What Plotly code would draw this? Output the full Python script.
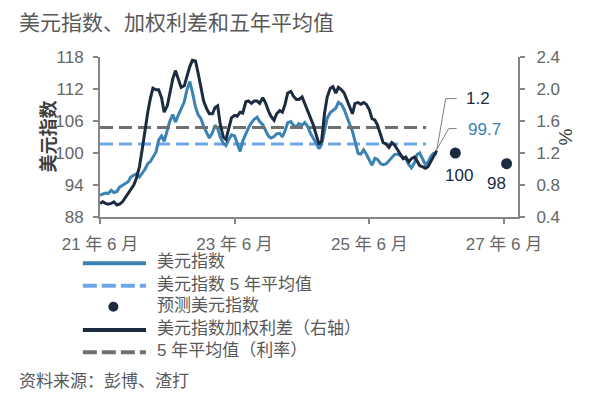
import pandas as pd
import plotly.graph_objects as go

# semi-monthly readings, Jun 2021 - Jun 2026
dates = pd.date_range('2021-06-01', periods=121, freq='SMS')

dxy = [92.1, 92.3, 92.5, 92.4, 93.0, 92.6, 92.8, 93.6, 93.9, 94.2,
       94.6, 95.5, 95.8, 96.1, 95.5, 96.2, 97.0, 98.0, 98.4, 99.2,
       100.2, 102.4, 103.2, 102.2, 104.3, 106.0, 107.2, 105.8, 107.2, 108.2,
       109.6, 111.8, 113.4, 111.4, 108.6, 107.2, 106.4, 105.0, 103.6, 102.8,
       103.8, 105.2, 104.6, 103.0, 101.8, 101.4, 102.6, 103.4, 103.2, 102.0,
       100.3, 102.2, 103.6, 104.7, 105.7, 106.3, 106.7, 105.9, 105.3, 104.3,
       103.2, 102.8, 103.1, 103.6, 103.7, 103.0, 104.2, 105.7, 105.9, 105.2,
       104.9, 105.5, 105.2, 105.7, 105.0, 103.8, 102.6, 101.9, 100.8, 101.6,
       104.2, 106.5, 107.6, 107.9, 108.4, 109.5, 109.1, 108.2, 106.8, 105.3,
       104.1, 102.4, 99.9, 99.8, 100.6, 99.8, 98.5, 97.7, 99.0, 98.8,
       98.0, 97.8, 98.0, 98.6, 99.2, 99.7, 99.8, 99.5, 99.2, 98.9,
       97.8, 97.2, 98.2, 99.7, 100.0, 99.1, 97.8, 98.3, 99.4, 99.9,
       99.7]

spread = [0.57, 0.59, 0.57, 0.56, 0.57, 0.59, 0.55, 0.56, 0.59, 0.64,
          0.69, 0.75, 0.80, 0.88, 1.03, 1.23, 1.50, 1.71, 1.88, 2.01,
          1.99, 1.99, 1.89, 1.71, 1.79, 1.97, 2.13, 2.23, 2.11, 2.02,
          2.04, 2.16, 2.28, 2.36, 2.35, 2.20, 2.03, 1.85, 1.75, 1.69,
          1.69, 1.77, 1.79, 1.56, 1.40, 1.37, 1.51, 1.64, 1.67, 1.66,
          1.71, 1.70, 1.84, 1.85, 1.82, 1.85, 1.85, 1.82, 1.89, 1.83,
          1.73, 1.66, 1.61, 1.69, 1.73, 1.71, 1.81, 1.95, 1.97, 1.91,
          1.87, 1.87, 1.90, 1.82, 1.75, 1.67, 1.55, 1.44, 1.31, 1.35,
          1.70, 1.90, 2.01, 2.03, 1.95, 2.02, 1.99, 1.95, 1.85, 1.75,
          1.69, 1.82, 1.83, 1.81, 1.83, 1.81, 1.74, 1.63, 1.61, 1.55,
          1.42, 1.33, 1.31, 1.27, 1.33, 1.30, 1.24, 1.19, 1.13, 1.15,
          1.09, 1.13, 1.15, 1.10, 1.04, 1.03, 1.01, 1.03, 1.10, 1.17,
          1.23]

avg_dates = ['2021-06-01', '2026-04-05']
dxy_avg = 101.7
spread_avg = 1.52

fc_dates = ['2026-09-10', '2027-06-15']
fc_values = [100, 98]

tick_dates = ['2021-06-01', '2023-06-01', '2025-06-01', '2027-06-01']
tick_text = ['21 年 6 月', '23 年 6 月', '25 年 6 月', '27 年 6 月']

legend_names = ['美元指数', '美元指数 5 年平均值', '预测美元指数',
                '美元指数加权利差（右轴）', '5 年平均值（利率）']

BLUE = '#3a83b3'
LBLUE = '#6ea6e6'
NAVY = '#1c2b40'
GREY = '#707070'
AXIS = '#868686'
TXT = '#595959'
FONT = 'Liberation Sans, Arial, Noto Sans CJK SC, sans-serif'

fig = go.Figure()
fig.add_trace(go.Scatter(x=avg_dates, y=[dxy_avg] * 2, mode='lines',
                         line=dict(color=LBLUE, width=3, dash='13px,6px'), hoverinfo='none'))
fig.add_trace(go.Scatter(x=dates, y=dxy, mode='lines',
                         line=dict(color=BLUE, width=3), hoverinfo='none'))
fig.add_trace(go.Scatter(x=fc_dates, y=fc_values, mode='markers',
                         marker=dict(color=NAVY, size=11), hoverinfo='none'))
fig.add_trace(go.Scatter(x=avg_dates, y=[spread_avg] * 2, mode='lines', yaxis='y2',
                         line=dict(color=GREY, width=3, dash='13px,6px'), hoverinfo='none'))
fig.add_trace(go.Scatter(x=dates, y=spread, mode='lines', yaxis='y2',
                         line=dict(color=NAVY, width=3), hoverinfo='none'))

annos = [
    dict(text='美元指数、加权利差和五年平均值', xref='paper', yref='paper', x=0, y=1,
         xshift=-83, yshift=35, xanchor='left', yanchor='middle',
         font=dict(size=21, color=TXT)),
    dict(text='<b>美元指数</b>', xref='paper', yref='paper', x=0, y=0.5, xshift=-65,
         textangle=-90, font=dict(size=18, color='#404040')),
    dict(text='%', xref='paper', yref='paper', x=1, y=0.5, xshift=59,
         textangle=-90, font=dict(size=19, color='#404040')),
    dict(text='资料来源：彭博、渣打', xref='paper', yref='paper', x=0, y=0,
         xshift=-83, yshift=-164, xanchor='left', yanchor='middle',
         font=dict(size=17, color=TXT)),
    # end-of-series labels
    dict(text=f'{spread[-1]:.1f}', x=dates[-1], y=spread[-1], yref='y2',
         xshift=27, yshift=52, xanchor='left', font=dict(size=17, color=NAVY)),
    dict(text=f'{dxy[-1]:.1f}', x=dates[-1], y=dxy[-1],
         xshift=29, yshift=25, xanchor='left', font=dict(size=17, color=BLUE)),
    dict(text=str(fc_values[0]), x=fc_dates[0], y=fc_values[0],
         xshift=4, yshift=-22, font=dict(size=17, color=NAVY)),
    dict(text=str(fc_values[1]), x=fc_dates[1], y=fc_values[1],
         xshift=-10, yshift=-20, font=dict(size=17, color=NAVY)),
]
for a in annos:
    a.setdefault('showarrow', False)

lead = dict(color='#7f7f7f', width=1)
shapes = [
    dict(type='line', xref='x', yref='y2', xsizemode='pixel', ysizemode='pixel',
         xanchor=dates[-1], yanchor=spread[-1], x0=0, y0=0, x1=9, y1=52, line=lead),
    dict(type='line', xref='x', yref='y2', xsizemode='pixel', ysizemode='pixel',
         xanchor=dates[-1], yanchor=spread[-1], x0=9, y0=52, x1=20, y1=52, line=lead),
    dict(type='line', xref='x', yref='y', xsizemode='pixel', ysizemode='pixel',
         xanchor=dates[-1], yanchor=dxy[-1], x0=0, y0=5, x1=12, y1=26, line=lead),
    dict(type='line', xref='x', yref='y', xsizemode='pixel', ysizemode='pixel',
         xanchor=dates[-1], yanchor=dxy[-1], x0=12, y0=26, x1=20, y1=26, line=lead),
]

# hand-drawn legend below the plot (paper coords)
leg_rows = [-0.289, -0.429, -0.561, -0.706, -0.846]
leg_styles = [dict(color=BLUE, width=4), dict(color=LBLUE, width=4, dash='14px,5px'),
              None, dict(color=NAVY, width=4), dict(color=GREY, width=4, dash='14px,5px')]
for yy, name, st in zip(leg_rows, legend_names, leg_styles):
    if st is None:
        shapes.append(dict(type='circle', xref='paper', yref='paper', xsizemode='pixel',
                           ysizemode='pixel', xanchor=0.032, yanchor=yy,
                           x0=-5, x1=5, y0=-5, y1=5, fillcolor=NAVY, line=dict(width=0)))
    else:
        shapes.append(dict(type='line', xref='paper', yref='paper', x0=-0.041, x1=0.110,
                           y0=yy, y1=yy, line=st))
    annos.append(dict(text=name, xref='paper', yref='paper', x=0.132, y=yy, yshift=1.5,
                      xanchor='left', yanchor='middle', showarrow=False,
                      font=dict(size=17, color=TXT)))

axis_common = dict(showline=True, linecolor=AXIS, linewidth=2, ticks='outside',
                   ticklen=5, tickwidth=2, tickcolor=AXIS, showgrid=False, zeroline=False,
                   tickfont=dict(size=17, color='#666666'))

# page body has an 8px default margin, so the figure is a bit smaller than the window
fig.update_layout(
    width=590, height=408,
    margin=dict(l=92, r=80, t=49, b=199),
    paper_bgcolor='white', plot_bgcolor='white',
    font=dict(family=FONT),
    showlegend=False,
    xaxis=dict(type='date', range=['2021-06-01', '2027-08-16'], tickvals=tick_dates,
               ticktext=tick_text, ticklabelstandoff=6, **axis_common),
    yaxis=dict(range=[88, 118], dtick=6, tick0=88, ticklabelstandoff=6, **axis_common),
    yaxis2=dict(range=[0.4, 2.4], dtick=0.4, tick0=0.4, tickformat='.1f', overlaying='y',
                side='right', ticklabelstandoff=8, **axis_common),
    annotations=annos,
    shapes=shapes,
)

fig.write_html("out.html")
